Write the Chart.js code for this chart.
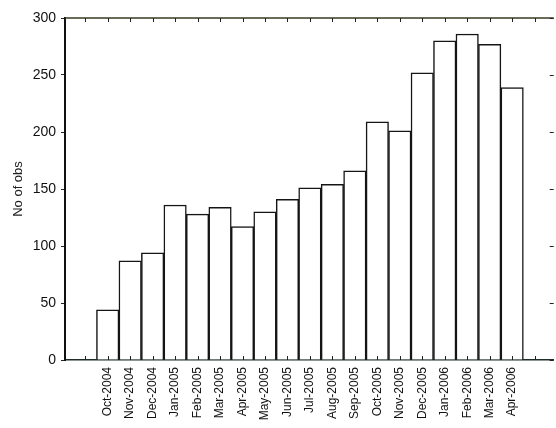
<!DOCTYPE html>
<html>
<head>
<meta charset="utf-8">
<script src="https://cdn.jsdelivr.net/npm/chart.js@4"></script>
<style>
  html, body { margin: 0; padding: 0; background: #fff; overflow: hidden; }
  #wrap { width: 556px; height: 428px; position: relative; }
</style>
</head>
<body>
<div id="wrap"><canvas id="obsChart"></canvas></div>
<script>
// months shown on the x axis (one bar each)
const months = [
  'Oct-2004', 'Nov-2004', 'Dec-2004', 'Jan-2005', 'Feb-2005', 'Mar-2005',
  'Apr-2005', 'May-2005', 'Jun-2005', 'Jul-2005', 'Aug-2005', 'Sep-2005',
  'Oct-2005', 'Nov-2005', 'Dec-2005', 'Jan-2006', 'Feb-2006', 'Mar-2006',
  'Apr-2006'
];
// number of observations per month
const obsCount = [
  44, 87, 94, 136, 128, 134, 117, 130, 141, 151, 154, 166,
  209, 201, 252, 280, 286, 277, 239
];
// y axis ticks
const yTicks = [0, 50, 100, 150, 200, 250, 300];

// bars sit on positions 1..n, with one empty slot at each end
const slots = [];
for (let i = 0; i <= months.length + 1; i++) slots.push(i);

// top frame line and the small inward ticks of the old plot
// (right frame edge falls just outside the picture)
const framePlugin = {
  id: 'frame',
  afterDatasetsDraw(chart) {
    const ctx = chart.ctx;
    const a = chart.chartArea;
    const xs = chart.scales.x;
    const ys = chart.scales.y;
    ctx.save();
    ctx.strokeStyle = '#3a3a22';
    ctx.lineWidth = 1.5;
    ctx.beginPath();
    ctx.moveTo(a.left, a.top);
    ctx.lineTo(a.right, a.top);
    ctx.stroke();

    ctx.strokeStyle = '#222';
    ctx.lineWidth = 1;
    ctx.beginPath();
    xs.ticks.forEach(t => {
      const px = Math.round(xs.getPixelForValue(t.value)) + 0.5;
      ctx.moveTo(px, a.bottom);
      ctx.lineTo(px, a.bottom - 4);
      ctx.moveTo(px, a.top);
      ctx.lineTo(px, a.top + 4);
    });
    ys.ticks.forEach(t => {
      const py = Math.round(ys.getPixelForValue(t.value)) + 0.5;
      ctx.moveTo(a.right, py);
      ctx.lineTo(a.right - 4, py);
    });
    ctx.stroke();
    ctx.restore();
  }
};

const ctx = document.getElementById('obsChart').getContext('2d');
new Chart(ctx, {
  type: 'bar',
  data: {
    datasets: [{
      label: 'No of obs',
      data: obsCount.map((v, i) => ({ x: i + 1, y: v })),
      backgroundColor: '#ffffff',
      borderColor: '#151515',
      borderWidth: 1.5,
      barPercentage: 1,
      categoryPercentage: 1
    }]
  },
  options: {
    responsive: true,
    maintainAspectRatio: false,
    animation: false,
    layout: { padding: { top: 18, right: 0, left: 0, bottom: 0 } },
    plugins: {
      legend: { display: false },
      tooltip: { enabled: false }
    },
    scales: {
      x: {
        type: 'linear',
        offset: false,
        min: -0.9,
        max: 20.85,
        afterFit: s => { s.height = 68; },
        afterBuildTicks: s => { s.ticks = slots.map(v => ({ value: v })); },
        grid: { display: false, drawTicks: false, offset: false },
        border: { display: true, color: '#1d2b2b', width: 1.5 },
        ticks: {
          autoSkip: false,
          minRotation: 90,
          maxRotation: 90,
          padding: 7,
          color: '#111',
          font: { family: '"Liberation Sans", Arial, sans-serif', size: 12 },
          callback: v => months[v - 1] || ''
        }
      },
      y: {
        min: 0,
        max: 300,
        afterFit: s => { s.width = 65; },
        afterBuildTicks: s => { s.ticks = yTicks.map(v => ({ value: v })); },
        grid: { drawOnChartArea: false, drawTicks: true, tickLength: 4, color: '#222' },
        border: { display: true, color: '#111', width: 2 },
        ticks: {
          padding: 5,
          color: '#111',
          font: { family: '"Liberation Sans", Arial, sans-serif', size: 14 }
        },
        title: {
          display: true,
          text: 'No of obs',
          color: '#222',
          padding: { top: 11, bottom: 0 },
          font: { family: '"Liberation Sans", Arial, sans-serif', size: 13 }
        }
      }
    }
  },
  plugins: [framePlugin]
});
</script>
</body>
</html>
